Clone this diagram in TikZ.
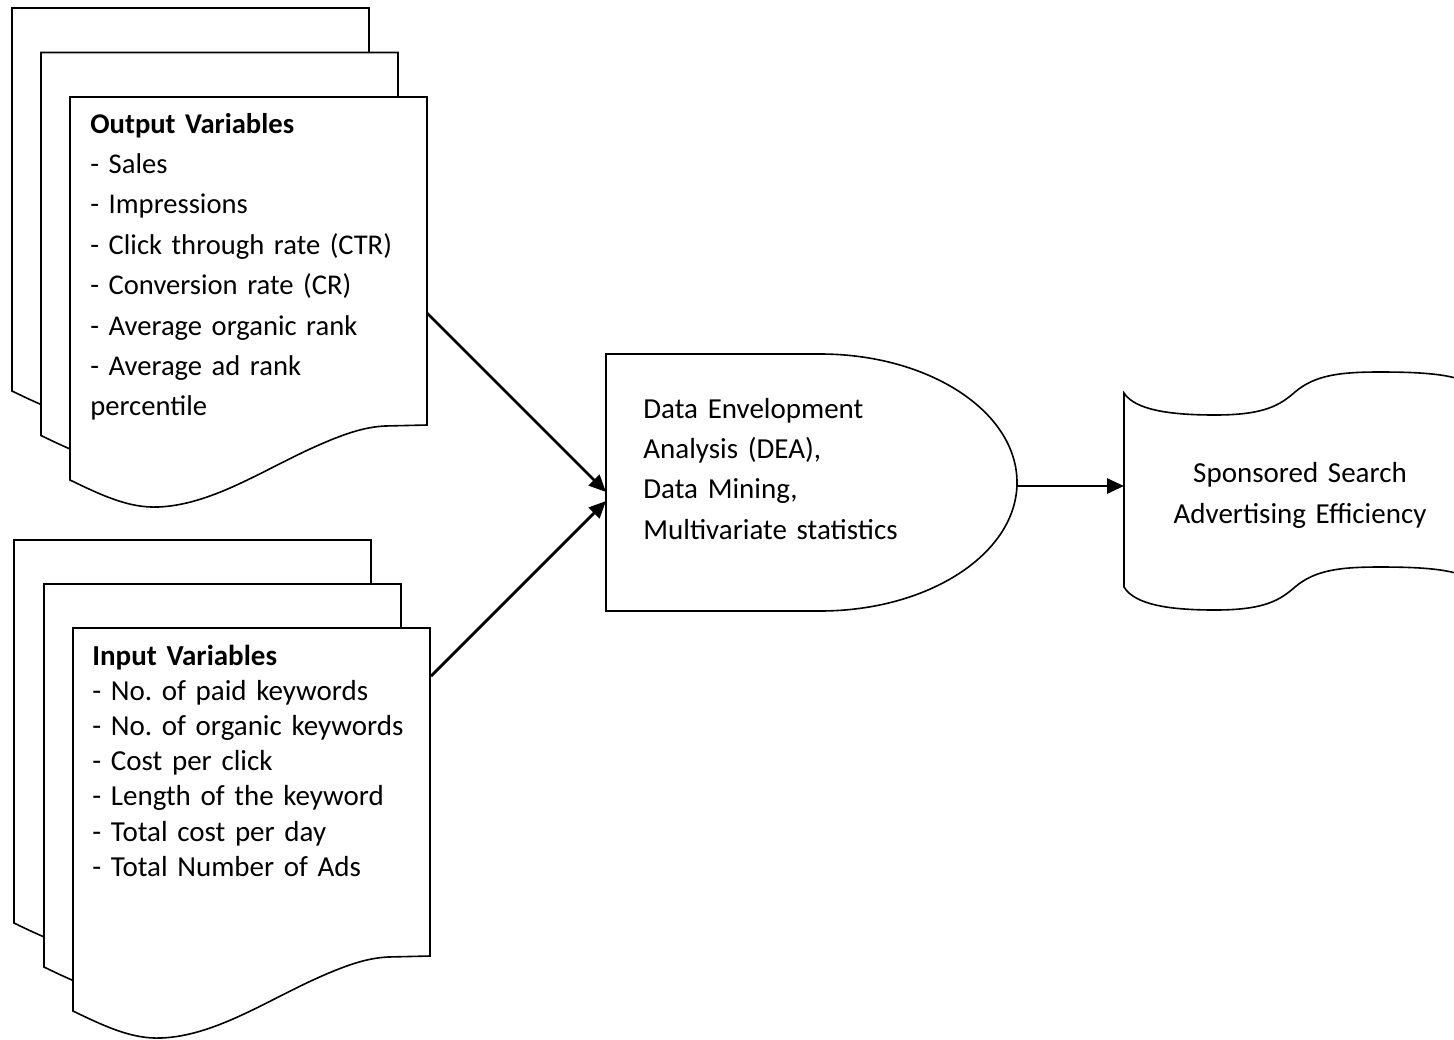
\documentclass[tikz,border=0pt]{standalone}
\usepackage{fontspec}
\setmainfont{Carlito}
\usetikzlibrary{arrows.meta}
\frenchspacing
\tikzset{
  docline/.style={line width=0.8pt, draw=black},
  docsheet/.pic={\draw[docline,fill=white] (0,0) -- (357,0) -- (357,328) -- (315,329)
      .. controls (295,330) and (275,336) .. (240,352)
      .. controls (190,375) and (140,408) .. (88,410)
      .. controls (60,411) and (35,400) .. (0,383) -- cycle;},
  flowarrow/.style={line width=1.4pt, -{Triangle[length=8.5pt,width=7.5pt]}},
  listtext/.style={inner sep=0pt, anchor=base west, text width=175pt, align=left},
}
\begin{document}
\begin{tikzpicture}[x=0.5pt,y=-0.5pt]
\useasboundingbox (0,0) rectangle (1454,1039);
% output variable documents
\pic at (12,8) {docsheet};
\pic at (41,52.5) {docsheet};
\pic at (70,97) {docsheet};
\node[listtext, font=\fontsize{14.3}{20.2}\selectfont] (outtxt) at (90,133)
  {\textbf{Output Variables}\\- Sales\\- Impressions\\- Click through rate (CTR)\\- Conversion rate (CR)\\- Average organic rank\\- Average ad rank\\percentile};
% input variable documents
\pic at (14,540) {docsheet};
\pic at (44,584) {docsheet};
\pic at (73,628) {docsheet};
\node[listtext, font=\fontsize{14.5}{17.6}\selectfont] (intxt) at (92,665)
  {\textbf{Input Variables}\\- No. of paid keywords\\- No. of organic keywords\\- Cost per click\\- Length of the keyword\\- Total cost per day\\- Total Number of Ads};
% delay shape
\draw[docline] (820,354) -- (606,354) -- (606,611) -- (820,611)
  arc[start angle=-90, end angle=90, x radius=197, y radius=-128.5];
\node[listtext, font=\fontsize{14.5}{20.2}\selectfont] (deatxt) at (643,418)
  {Data Envelopment\\Analysis (DEA),\\Data Mining,\\Multivariate statistics};
% stored data shape
\draw[docline] (1124,393) .. controls (1135,410) and (1170,415) .. (1215,415)
  .. controls (1265,415) and (1280,405) .. (1295,392)
  .. controls (1315,375) and (1340,372) .. (1380,372)
  .. controls (1420,372) and (1445,374) .. (1462,380)
  -- (1462,575)
  .. controls (1445,569) and (1420,567) .. (1380,567)
  .. controls (1340,567) and (1315,570) .. (1295,587)
  .. controls (1280,600) and (1265,610) .. (1215,610)
  .. controls (1170,610) and (1135,605) .. (1124,587) -- cycle;
\node[inner sep=0pt, anchor=base, text width=160pt, align=center, font=\fontsize{14.5}{20.5}\selectfont] (ssetxt) at (1300,482)
  {Sponsored Search\\Advertising Efficiency};
% connector anchors
\coordinate (outR) at (427,313);
\coordinate (inR) at (431,676);
\coordinate (deaL1) at (606,492);
\coordinate (deaL2) at (606,501);
\coordinate (deaR) at (1017,486);
\coordinate (sseL) at (1124,486);
\draw[flowarrow] (outR) -- (deaL1);
\draw[flowarrow] (inR) -- (deaL2);
\draw[flowarrow] (deaR) -- (sseL);
\end{tikzpicture}
\end{document}
